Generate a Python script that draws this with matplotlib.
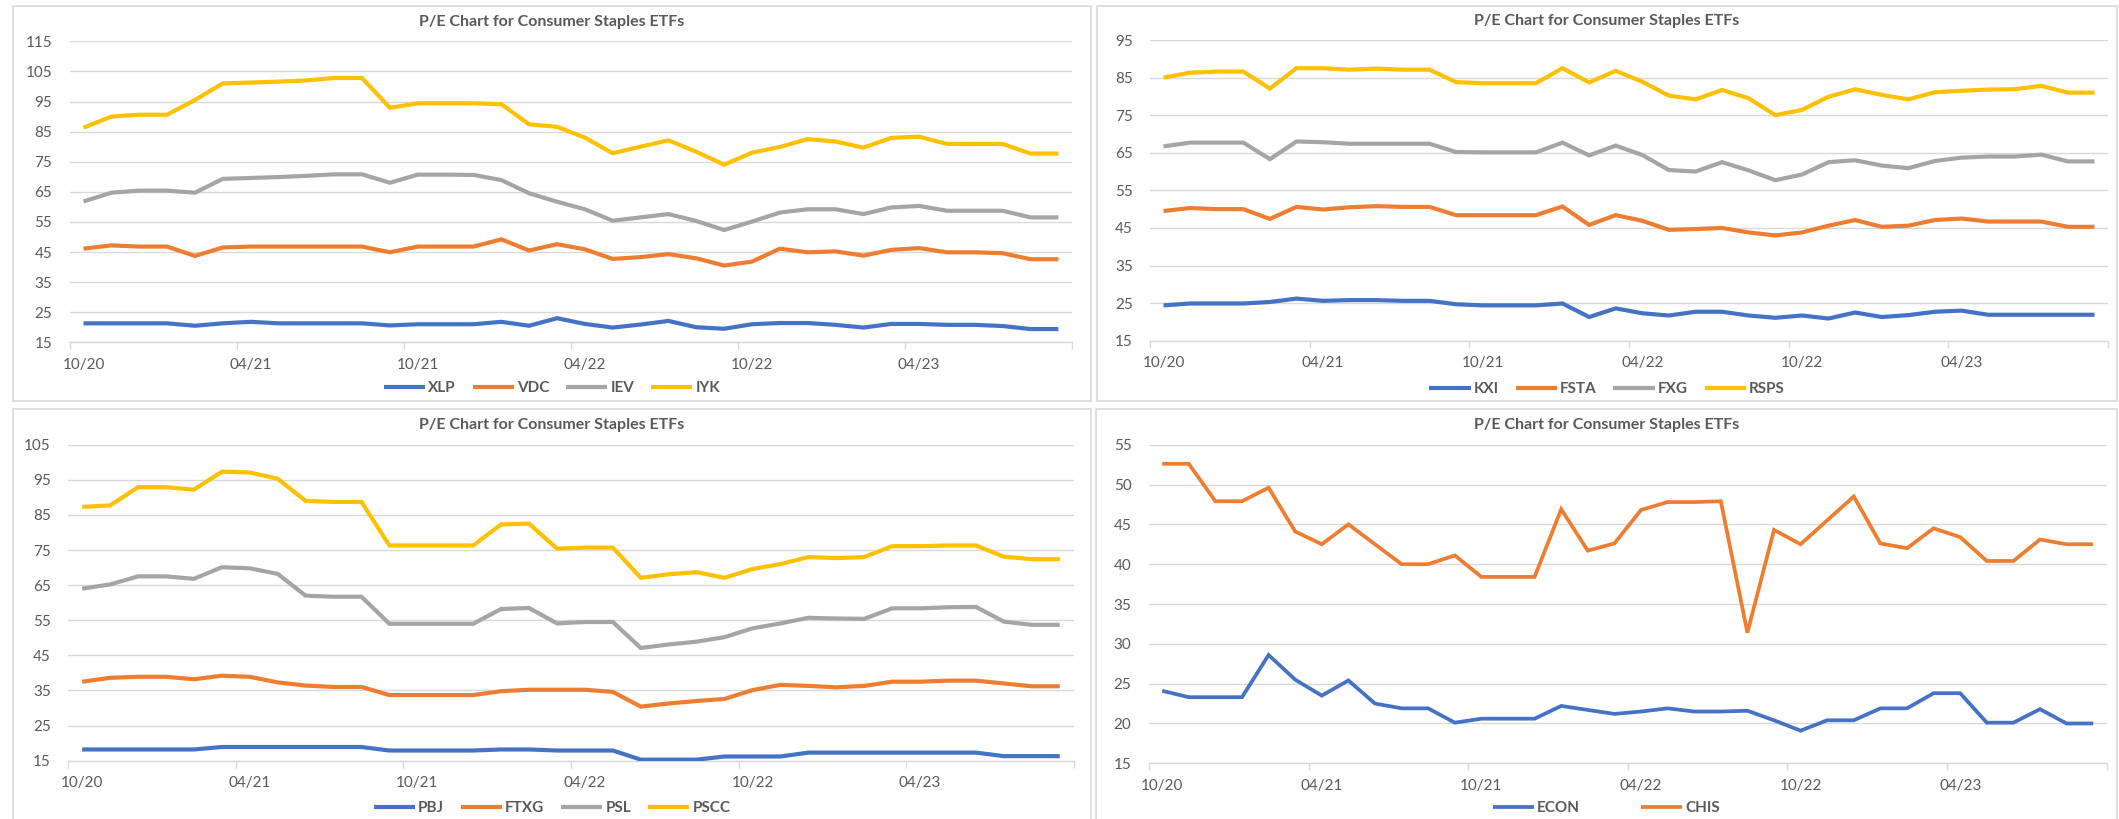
import matplotlib
matplotlib.use("Agg")
import matplotlib.pyplot as plt
from matplotlib.patches import Rectangle

# ---------------- data ----------------
months = ["10/20", "11/20", "12/20", "01/21", "02/21", "03/21", "04/21", "05/21", "06/21",
          "07/21", "08/21", "09/21", "10/21", "11/21", "12/21", "01/22", "02/22", "03/22",
          "04/22", "05/22", "06/22", "07/22", "08/22", "09/22", "10/22", "11/22", "12/22",
          "01/23", "02/23", "03/23", "04/23", "05/23", "06/23", "07/23", "08/23", "09/23"]
tick_labels = ["10/20", "04/21", "10/21", "04/22", "10/22", "04/23"]

xlp = [21.3, 21.3, 21.3, 21.3, 20.5, 21.3, 21.8, 21.3, 21.3, 21.3, 21.3, 20.6, 21.0, 21.0, 21.0, 21.8,
       20.5, 23.0, 21.1, 19.9, 20.9, 22.1, 20.0, 19.5, 21.0, 21.4, 21.4, 20.8, 19.9, 21.1, 21.1, 20.8,
       20.8, 20.4, 19.4, 19.4]
vdc = [46.1, 47.2, 46.8, 46.8, 43.7, 46.5, 46.8, 46.8, 46.8, 46.8, 46.8, 44.9, 46.8, 46.8, 46.8, 49.2,
       45.5, 47.6, 45.9, 42.7, 43.3, 44.3, 42.9, 40.5, 41.8, 46.1, 44.9, 45.2, 43.8, 45.7, 46.3, 44.9,
       44.9, 44.6, 42.6, 42.6]
iev = [61.8, 64.7, 65.4, 65.4, 64.7, 69.3, 69.6, 69.9, 70.3, 70.8, 70.8, 68.0, 70.7, 70.7, 70.6, 68.9,
       64.5, 61.7, 59.2, 55.4, 56.5, 57.6, 55.3, 52.3, 55.1, 58.1, 59.2, 59.2, 57.6, 59.8, 60.3, 58.7,
       58.7, 58.7, 56.5, 56.5]
iyk = [86.3, 90.0, 90.6, 90.6, 95.5, 101.0, 101.3, 101.6, 102.0, 102.8, 102.8, 92.9, 94.4, 94.4, 94.4,
       94.1, 87.4, 86.6, 83.0, 77.8, 80.0, 82.1, 78.3, 74.0, 78.0, 79.9, 82.5, 81.7, 79.7, 82.9, 83.3,
       80.9, 80.9, 80.9, 77.7, 77.7]

kxi = [24.4, 24.9, 24.9, 24.9, 25.3, 26.2, 25.6, 25.8, 25.8, 25.6, 25.6, 24.7, 24.4, 24.4, 24.4, 24.9,
       21.3, 23.6, 22.3, 21.7, 22.7, 22.7, 21.7, 21.1, 21.7, 20.9, 22.5, 21.3, 21.8, 22.7, 23.0, 21.9,
       21.9, 21.9, 21.9, 21.9]
fsta = [49.5, 50.3, 50.0, 50.0, 47.4, 50.6, 49.9, 50.5, 50.8, 50.6, 50.6, 48.4, 48.4, 48.4, 48.4, 50.7,
        45.8, 48.4, 46.9, 44.5, 44.7, 45.0, 43.8, 43.0, 43.8, 45.6, 47.1, 45.3, 45.6, 47.1, 47.5, 46.7,
        46.7, 46.7, 45.3, 45.3]
fxg = [66.7, 67.7, 67.7, 67.7, 63.3, 68.0, 67.8, 67.4, 67.4, 67.4, 67.4, 65.2, 65.1, 65.1, 65.1, 67.7,
       64.3, 66.9, 64.4, 60.4, 60.0, 62.5, 60.3, 57.7, 59.2, 62.5, 63.0, 61.6, 60.9, 62.8, 63.7, 64.0,
       64.0, 64.5, 62.7, 62.7]
rsps = [85.0, 86.3, 86.6, 86.6, 82.1, 87.5, 87.5, 87.1, 87.4, 87.1, 87.1, 83.8, 83.5, 83.5, 83.5, 87.5,
        83.7, 86.8, 83.9, 80.2, 79.2, 81.7, 79.5, 75.0, 76.4, 79.9, 81.9, 80.4, 79.2, 81.1, 81.5, 81.8,
        81.9, 82.8, 81.0, 81.0]

pbj = [18.2, 18.2, 18.2, 18.2, 18.2, 18.9, 18.9, 18.9, 18.9, 18.9, 18.9, 17.9, 17.9, 17.9, 17.9, 18.2,
       18.2, 17.9, 17.9, 17.9, 15.3, 15.3, 15.3, 16.2, 16.2, 16.2, 17.3, 17.3, 17.3, 17.3, 17.3, 17.3,
       17.3, 16.3, 16.3, 16.3]
ftxg = [37.5, 38.6, 38.9, 38.9, 38.2, 39.2, 38.9, 37.3, 36.4, 36.0, 36.0, 33.7, 33.7, 33.7, 33.7, 34.8,
        35.2, 35.2, 35.2, 34.6, 30.4, 31.3, 32.0, 32.6, 35.1, 36.6, 36.3, 35.9, 36.3, 37.5, 37.5, 37.8,
        37.8, 37.0, 36.2, 36.2]
psl = [64.0, 65.2, 67.5, 67.5, 66.8, 70.1, 69.8, 68.2, 62.0, 61.7, 61.7, 54.0, 54.0, 54.0, 54.0, 58.2,
       58.5, 54.1, 54.5, 54.5, 47.1, 48.1, 48.9, 50.2, 52.7, 54.1, 55.7, 55.5, 55.4, 58.4, 58.4, 58.7,
       58.8, 54.6, 53.7, 53.7]
pscc = [87.3, 87.7, 92.9, 92.9, 92.2, 97.3, 97.1, 95.3, 89.0, 88.7, 88.7, 76.3, 76.3, 76.3, 76.3, 82.3,
        82.5, 75.4, 75.7, 75.7, 67.1, 68.1, 68.7, 67.1, 69.6, 71.0, 73.0, 72.7, 73.0, 76.1, 76.1, 76.3,
        76.3, 73.1, 72.4, 72.4]

econ = [24.1, 23.3, 23.3, 23.3, 28.6, 25.5, 23.5, 25.4, 22.5, 21.9, 21.9, 20.1, 20.6, 20.6, 20.6, 22.2,
        21.7, 21.2, 21.5, 21.9, 21.5, 21.5, 21.6, 20.4, 19.1, 20.4, 20.4, 21.9, 21.9, 23.8, 23.8, 20.1,
        20.1, 21.8, 20.0, 20.0]
chis = [52.6, 52.6, 47.9, 47.9, 49.6, 44.1, 42.5, 45.0, 42.5, 40.0, 40.0, 41.1, 38.4, 38.4, 38.4, 46.9,
        41.7, 42.6, 46.8, 47.8, 47.8, 47.9, 31.4, 44.3, 42.5, 45.5, 48.5, 42.6, 42.0, 44.5, 43.4, 40.4,
        40.4, 43.1, 42.5, 42.5]

title = "P/E Chart for Consumer Staples ETFs"

# ---------------- style ----------------
W, H = 2119, 819
BLUE, ORANGE, GRAY, GOLD = "#4472C4", "#ED7D31", "#A5A5A5", "#FFC000"
TXT = "#595959"
GRID = "#D9D9D9"
FONT = ["Lato", "DejaVu Sans"]
plt.rcParams["font.family"] = FONT

fig = plt.figure(figsize=(W / 100, H / 100), dpi=100)
fig.patch.set_facecolor("white")


def frect(x0, y0, x1, y1):
    return [x0 / W, 1 - y1 / H, (x1 - x0) / W, (y1 - y0) / H]


def panel(plot_px, frame_px, ylim, ystep, series, title_y, legend_y, colspace, lw):
    fx0, fy0, fx1, fy1 = frame_px
    fig.patches.append(Rectangle((fx0 / W, 1 - fy1 / H), (fx1 - fx0) / W, (fy1 - fy0) / H,
                                 transform=fig.transFigure, fill=False,
                                 edgecolor="#D9D9D9", lw=1.2, zorder=0))
    ax = fig.add_axes(frect(*plot_px))
    x = list(range(len(months)))
    handles = []
    for name, vals, col in series:
        h, = ax.plot(x, vals, color=col, lw=lw, solid_joinstyle="miter",
                     solid_capstyle="butt", label=name, zorder=3)
        handles.append(h)
    ax.set_xlim(-0.5, len(months) - 0.5)
    ax.set_ylim(*ylim)
    yt = list(range(ylim[0], ylim[1] + 1, ystep))
    ax.set_yticks(yt)
    ax.set_yticklabels([str(v) for v in yt])
    ax.yaxis.grid(True, color=GRID, lw=1.0)
    ax.set_axisbelow(True)
    for s in ["top", "right", "left"]:
        ax.spines[s].set_visible(False)
    ax.spines["bottom"].set_color(GRID)
    ax.spines["bottom"].set_linewidth(1.0)
    ax.tick_params(axis="y", length=0, pad=12.5, labelsize=11, labelcolor=TXT)
    # major ticks at category boundaries, labels on minor ticks at category centres
    ax.set_xticks([i - 0.5 for i in range(0, len(months) + 1, 6)])
    ax.set_xticklabels([])
    ax.tick_params(axis="x", which="major", length=5, width=1.0, color=GRID, direction="out")
    label_pos = [months.index(t) for t in tick_labels]
    ax.set_xticks(label_pos, minor=True)
    ax.set_xticklabels(tick_labels, minor=True)
    ax.tick_params(axis="x", which="minor", length=0, pad=11, labelsize=11, labelcolor=TXT)
    cx = (fx0 + fx1) / 2 / W
    fig.text(cx, 1 - title_y / H, title, ha="center", va="center", fontsize=11.5,
             fontweight="bold", color=TXT)
    fig.legend(handles=handles, loc="center", bbox_to_anchor=(cx, 1 - legend_y / H),
               ncol=len(handles), frameon=False, fontsize=11, handlelength=2.7,
               handletextpad=0.2, columnspacing=colspace, labelcolor=TXT,
               prop={"weight": "bold", "size": 11})
    return ax


panel((69.6, 41.3, 1072.3, 342.3), (13, 6, 1091, 401), (15, 115), 10,
      [("XLP", xlp, BLUE), ("VDC", vdc, ORANGE), ("IEV", iev, GRAY), ("IYK", iyk, GOLD)],
      21.7, 388, 1.1, 3.0)
panel((1150.2, 40.0, 2107.8, 340.7), (1097, 6, 2117, 401), (15, 95), 10,
      [("KXI", kxi, BLUE), ("FSTA", fsta, ORANGE), ("FXG", fxg, GRAY), ("RSPS", rsps, GOLD)],
      21.0, 389, 1.1, 3.0)
panel((68.2, 444.7, 1073.7, 760.7), (13, 409, 1091, 830), (15, 105), 10,
      [("PBJ", pbj, BLUE), ("FTXG", ftxg, ORANGE), ("PSL", psl, GRAY), ("PSCC", pscc, GOLD)],
      425, 808.3, 1.1, 3.0)
panel((1148.9, 444.7, 2106.5, 763.3), (1096, 409, 2117, 830), (15, 55), 5,
      [("ECON", econ, BLUE), ("CHIS", chis, ORANGE)],
      425, 808, 4.0, 2.7)

fig.savefig("out.png", dpi=100, facecolor="white")
